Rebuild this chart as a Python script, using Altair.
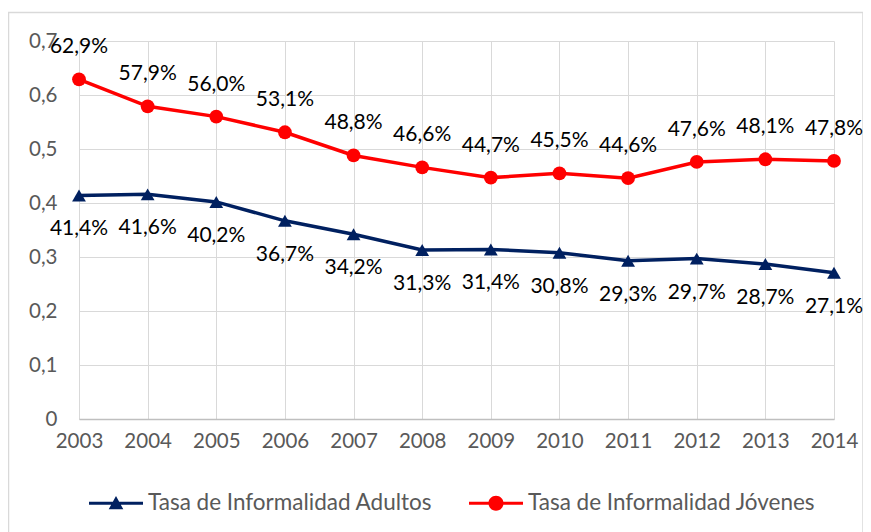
import altair as alt
import pandas as pd

years = [2003, 2004, 2005, 2006, 2007, 2008, 2009, 2010, 2011, 2012, 2013, 2014]
adultos = [0.414, 0.416, 0.402, 0.367, 0.342, 0.313, 0.314, 0.308, 0.293, 0.297, 0.287, 0.271]
jovenes = [0.629, 0.579, 0.560, 0.531, 0.488, 0.466, 0.447, 0.455, 0.446, 0.476, 0.481, 0.478]
series_names = ["Tasa de Informalidad Adultos", "Tasa de Informalidad Jóvenes"]
y_ticks = [0, 0.1, 0.2, 0.3, 0.4, 0.5, 0.6, 0.7]

rows = []
for y, a, j in zip(years, adultos, jovenes):
    rows.append({"year": y, "value": a, "serie": series_names[0]})
    rows.append({"year": y, "value": j, "serie": series_names[1]})
df = pd.DataFrame(rows)

FONT = "Lato"
colors = ["#002060", "#FF0000"]

x_enc = alt.X("year:Q", scale=alt.Scale(domain=[2003, 2014], nice=False, zero=False),
              axis=alt.Axis(values=years, format="d", title=None, grid=True, gridColor="#d9d9d9",
                            domain=True, domainColor="#bfbfbf", domainWidth=1.5, ticks=False,
                            labelOverlap=False, labelBound=False, labelFlush=False,
                            labelPadding=12, labelFontSize=20.5, labelColor="#595959", labelFont=FONT))
y_enc = alt.Y("value:Q", scale=alt.Scale(domain=[0, 0.7], nice=False),
              axis=alt.Axis(values=y_ticks, title=None, grid=True, gridColor="#d9d9d9",
                            domain=False, ticks=False, labelPadding=22, labelFontSize=20.5,
                            labelColor="#595959", labelFont=FONT, labelOverlap=False,
                            labelExpr="datum.value == 0 ? '0' : replace(format(datum.value, '.1f'), '.', ',')"))

# legend symbols: line segment + marker (custom paths, same winding)
LINE = "M-1,-0.055H1V0.055H-1Z"
TRI = LINE + "M-0.27,0.22L0,-0.27L0.27,0.22Z"
CIR = LINE + "M-0.28,0A0.28,0.28 0 1,1 0.28,0A0.28,0.28 0 1,1 -0.28,0Z"

color_scale = alt.Scale(domain=series_names, range=colors)
leg = alt.Legend(title=None, orient="none", legendX=10, legendY=435,
                 direction="horizontal", columns=2, columnPadding=36, labelLimit=0,
                 symbolSize=2916, symbolOpacity=1, symbolStrokeWidth=0, labelFontSize=22.5, labelFont=FONT,
                 labelColor="#595959", labelOffset=5)
color_enc = alt.Color("serie:N", scale=color_scale, legend=leg)

base = alt.Chart(df)

legend_layer = base.transform_filter("false").mark_point(filled=True, opacity=1, size=2916).encode(
    x=x_enc, y=y_enc, color=color_enc,
    shape=alt.Shape("serie:N", scale=alt.Scale(domain=series_names, range=[TRI, CIR]), legend=leg),
)

lines = base.mark_line(strokeWidth=3.5).encode(x=x_enc, y=y_enc, color=color_enc)
pts_a = base.transform_filter(alt.datum.serie == series_names[0]).mark_point(
    filled=True, opacity=1, size=190, shape="triangle-up").encode(x=x_enc, y=y_enc, color=color_enc)
pts_j = base.transform_filter(alt.datum.serie == series_names[1]).mark_point(
    filled=True, opacity=1, size=190, shape="circle").encode(x=x_enc, y=y_enc, color=color_enc)

lab_j = base.transform_filter(alt.datum.serie == series_names[1]).transform_calculate(
    lab="replace(format(datum.value, '.1%'), '.', ',')").mark_text(
    dy=-32, fontSize=21, font=FONT, color="#000000").encode(x=x_enc, y=y_enc, text="lab:N")
lab_a = base.transform_filter(alt.datum.serie == series_names[0]).transform_calculate(
    lab="replace(format(datum.value, '.1%'), '.', ',')").mark_text(
    dy=34, fontSize=21, font=FONT, color="#000000").encode(x=x_enc, y=y_enc, text="lab:N")

border = alt.Chart(pd.DataFrame({"a": [0]})).mark_rect(fill=None, stroke="#d9d9d9", strokeWidth=1.5).encode(
    x=alt.value(-70.5), x2=alt.value(784), y=alt.value(-28.5), y2=alt.value(700))

chart = alt.layer(border, legend_layer, lines, pts_a, pts_j, lab_j, lab_a).properties(
    width=755, height=378,
    autosize=alt.AutoSizeParams(type="none"),
    padding={"left": 71, "top": 33, "right": 29, "bottom": 113},
).configure_view(stroke=None)

chart.save("out.html", embed_options={"renderer": "svg", "actions": False})
